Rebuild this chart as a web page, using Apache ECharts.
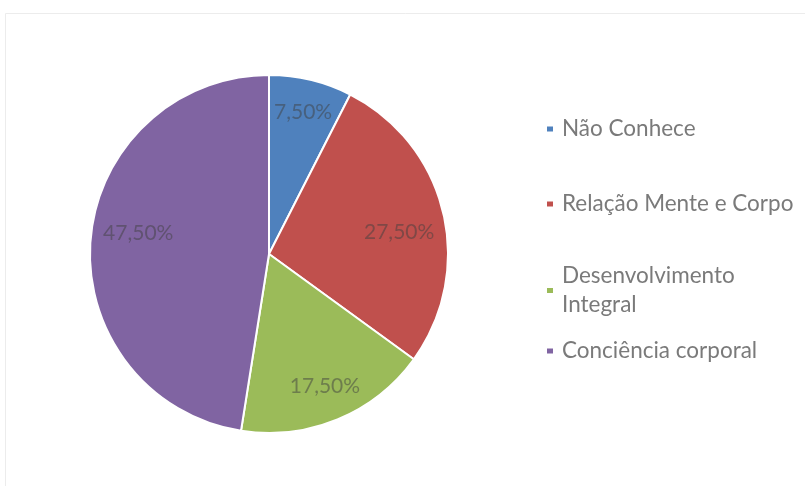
<!DOCTYPE html>
<html>
<head>
<meta charset="utf-8">
<style>
  html, body { margin: 0; padding: 0; background: #ffffff; }
  #chart { width: 805px; height: 486px; }
</style>
<script src="https://cdn.jsdelivr.net/npm/echarts@6/dist/echarts.min.js"></script>
</head>
<body>
<div id="chart"></div>
<script>
// Respostas: o que os participantes entendem pelo tema
const categories = ['Não Conhece', 'Relação Mente e Corpo', 'Desenvolvimento Integral', 'Conciência corporal'];
const legendLabels = ['Não Conhece', 'Relação Mente e Corpo', 'Desenvolvimento\nIntegral', 'Conciência corporal'];
const percentages = [7.5, 27.5, 17.5, 47.5];
const sliceColors = ['#4F81BD', '#C0504D', '#9BBB59', '#8064A2'];

const FONT = 'Lato, "Open Sans", sans-serif';
const cx = 269, cy = 254, R = 179;

// small label nudges (px) so the value labels sit where best-fit puts them
const labelNudge = [[0, 0], [-12, 12], [0, -3], [15, -9]];

const pieData = categories.map((name, i) => ({
  name: name,
  value: percentages[i],
  itemStyle: { color: sliceColors[i] }
}));

const fmtPct = v => v.toFixed(2).replace('.', ',') + '%';

// one legend block per entry so each row sits at its own height
const LINE_H = 29;
const legendRows = [
  { top: 129 - LINE_H / 2 },
  { top: 204 - LINE_H / 2 },
  { top: 276 - LINE_H, padTop: LINE_H },
  { top: 351 - LINE_H / 2 }
];

const legends = categories.map((name, i) => ({
  data: [name],
  orient: 'vertical',
  left: 545,
  top: legendRows[i].top,
  padding: 0,
  icon: 'rect',
  itemWidth: 8,
  itemHeight: 7,
  selectedMode: false,
  formatter: () => legendLabels[i],
  textStyle: {
    fontFamily: FONT,
    fontSize: 22.5,
    lineHeight: LINE_H,
    color: '#7a7a7a',
    padding: [legendRows[i].padTop || 0, 0, 0, 3]
  }
}));

const chart = echarts.init(document.getElementById('chart'), null, { renderer: 'canvas' });

chart.setOption({
  animation: false,
  backgroundColor: '#ffffff',
  graphic: [{
    type: 'rect',
    silent: true,
    shape: { x: 5.5, y: 13.5, width: 820, height: 500 },
    style: { fill: 'none', stroke: '#ececec', lineWidth: 1 }
  }],
  legend: legends,
  series: [
    {
      type: 'pie',
      center: [cx, cy],
      radius: [0, R],
      startAngle: 90,
      clockwise: true,
      silent: true,
      label: { show: false },
      labelLine: { show: false },
      itemStyle: { borderColor: '#ffffff', borderWidth: 2 },
      data: pieData
    },
    {
      // transparent ring that carries the value labels further out than mid-radius
      type: 'pie',
      center: [cx, cy],
      radius: [R * 0.6, R],
      startAngle: 90,
      clockwise: true,
      silent: true,
      itemStyle: { color: 'rgba(0,0,0,0)' },
      label: {
        show: true,
        position: 'inside',
        formatter: p => fmtPct(p.value),
        fontFamily: FONT,
        fontSize: 21,
        color: 'rgba(64,64,64,0.5)'
      },
      labelLine: { show: false },
      data: categories.map((name, i) => ({
        name: name,
        value: percentages[i],
        label: { offset: labelNudge[i] }
      }))
    }
  ]
});
</script>
</body>
</html>
